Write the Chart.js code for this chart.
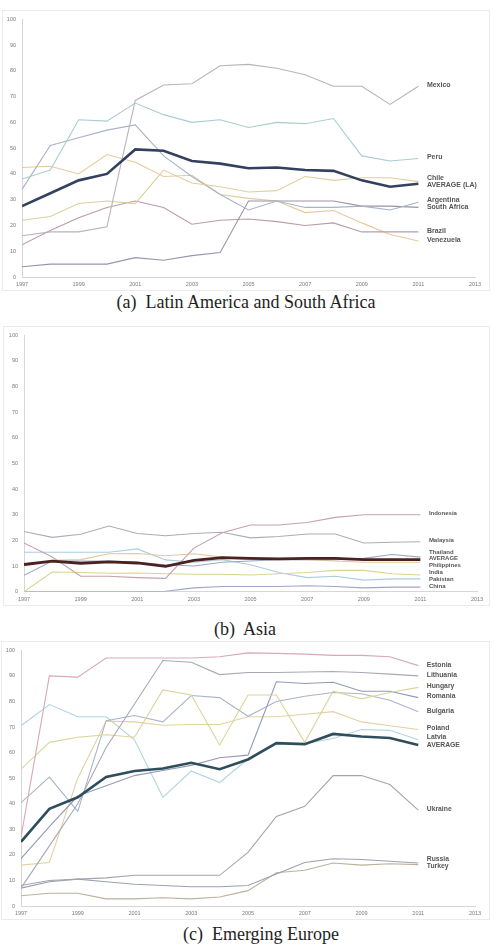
<!DOCTYPE html>
<html>
<head>
<meta charset="utf-8">
<script src="https://cdn.jsdelivr.net/npm/chart.js@4.4.1/dist/chart.umd.min.js"></script>
<style>
  body { margin: 0; background: #fff; width: 494px; height: 947px; position: relative; overflow: hidden; }
  .frame { position: absolute; border: 1px solid #ebebeb; box-sizing: border-box; }
  canvas { position: absolute; }
  .cap { position: absolute; white-space: pre; font-family: 'Liberation Serif', 'Times New Roman', serif; font-size: 18px; color: #1e1e1e; transform: translate(-50%, -50%); }
</style>
</head>
<body>
<script>
// years on the x axis and tick labels
const years = [1997, 1998, 1999, 2000, 2001, 2002, 2003, 2004, 2005, 2006, 2007, 2008, 2009, 2010, 2011];
const xTicks = [1997, 1999, 2001, 2003, 2005, 2007, 2009, 2011, 2013];
const yTicks = [0, 10, 20, 30, 40, 50, 60, 70, 80, 90, 100];

// (a) Latin America and South Africa
const laMexico      = [16, 17.5, 17.5, 19.5, 68.5, 74.5, 75, 82, 82.5, 81, 78.5, 74, 74, 67, 74];
const laPeru        = [38, 41.5, 61, 60.5, 67.5, 63, 60, 61, 58, 60, 59.5, 61.5, 47, 45, 46];
const laChile       = [22, 23.5, 28.5, 29.5, 28.5, 41.5, 36.5, 35, 33, 33.5, 39, 37.5, 38.5, 38.5, 37];
const laAverage     = [27.5, 32.5, 37.5, 40, 49.5, 49, 45, 44, 42.2, 42.5, 41.5, 41.2, 37.5, 35, 36.2];
const laArgentina   = [34, 51, 54, 57, 59, 47, 39, 32, 26, 29.5, 27, 27, 27.5, 26, 29];
const laSouthAfrica = [4, 5, 5, 5, 7.5, 6.5, 8.3, 9.5, 29.5, 29.5, 29.5, 29.5, 27.5, 27.5, 27];
const laBrazil      = [12.5, 18, 23, 27, 29.5, 27, 20.5, 22, 22.5, 21.5, 20, 21, 17.5, 17.5, 17.5];
const laVenezuela   = [42.5, 43, 40, 47.5, 44.5, 39, 39.5, 32, 30.5, 29.5, 25, 25.8, 21, 16.5, 14];

// (b) Asia
const asIndonesia   = [19, 13.5, 6, 6, 5.5, 5.2, 17, 23, 26, 26, 27, 29, 30, 30, 30];
const asMalaysia    = [23.5, 21.2, 22.4, 25.6, 22.7, 21.8, 22.7, 23.2, 21, 21.5, 22.5, 22.5, 19, 19.3, 19.5];
const asThailand    = [6.4, 12, 12, 12, 11.5, 10.5, 10, 11.5, 12, 12.5, 12.5, 12.5, 13, 14.5, 13.5];
const asAverage     = [10.6, 11.9, 11.1, 11.6, 11.2, 9.9, 12.2, 13.3, 13, 12.8, 13, 13, 12.5, 12.5, 12.5];
const asPhilippines = [10, 12.2, 12.5, 14.8, 14.9, 14, 14.8, 13.5, 12.5, 12.5, 12.5, 12, 11.5, 11.5, 11.5];
const asIndia       = [0, 7.7, 7.5, 7.2, 7.3, 7, 6.8, 6.8, 6.5, 7, 7.5, 8.3, 8.3, 7, 6.5];
const asPakistan    = [15.4, 15.4, 15.4, 15.4, 16.7, 12.4, 11.5, 12.5, 10.5, 7.5, 5.5, 6, 4.5, 5, 5];
const asChina       = [0, 0, 0, 0, 0, 0.2, 1.5, 2, 2, 2, 2.3, 2, 1.5, 1.8, 1.8];

// (c) Emerging Europe
const euEstonia   = [27, 90, 89.5, 97, 97, 97, 97, 97.5, 99, 98.8, 98.5, 98, 98, 97.5, 94];
const euLithuania = [7, 23.5, 40, 62, 79, 96, 95.3, 90.5, 91.3, 91.3, 91.5, 91.7, 91.3, 90.7, 90];
const euHungary   = [53.5, 64, 66, 67, 66, 84.5, 82.5, 63, 82.5, 82.5, 64, 84, 81, 83.5, 85.5];
const euRomania   = [18.5, 31, 43, 47, 51, 53, 55, 58, 59, 87.7, 87, 87.5, 84, 84, 81.5];
const euBulgaria  = [40.4, 50.4, 37, 72.5, 74.5, 72, 82.3, 81.5, 74.2, 80, 82, 83.5, 83, 80.5, 76];
const euPoland    = [16, 17, 50, 72.3, 72, 70.7, 71, 71, 74, 74, 75, 76, 72, 70.5, 69];
const euLatvia    = [70.5, 78.8, 74, 74, 65, 42.5, 52.8, 48.3, 57.5, 63.5, 63.5, 65.5, 69, 68.7, 65];
const euAverage   = [25.1, 38, 42.5, 50.5, 52.8, 53.8, 56, 53.5, 57.3, 63.7, 63.3, 67.3, 66.3, 65.7, 63];
const euUkraine   = [8, 10, 10.5, 11, 12, 12, 12, 12, 21, 35, 39, 51, 51, 47.5, 37.5];
const euRussia    = [7, 9.5, 10.5, 9.5, 8.5, 8, 7.5, 7.5, 8, 12.5, 17, 18.5, 18.2, 17.5, 16.8];
const euTurkey    = [4, 5, 5, 2.8, 2.8, 3.2, 2.8, 3.5, 6, 13, 14, 16.8, 16, 16.5, 16.2];

// names at the right end of each line, stacked so they don't overlap
const endLabels = {
  id: 'endLabels',
  afterDatasetsDraw(chart, args, opts) {
    const { ctx, scales: { x, y } } = chart;
    const items = chart.data.datasets.map(ds => ({
      text: ds.label,
      py: y.getPixelForValue(ds.data[ds.data.length - 1].y) - 1
    }));
    items.sort((a, b) => a.py - b.py);
    for (let k = 0; k < 60; k++) {
      for (let i = 1; i < items.length; i++) {
        const d = items[i].py - items[i - 1].py;
        if (d < opts.gap) {
          const s = (opts.gap - d) / 2;
          items[i - 1].py -= s;
          items[i].py += s;
        }
      }
    }
    const px = x.getPixelForValue(2011) + 8.5;
    ctx.save();
    ctx.font = opts.font;
    ctx.fillStyle = '#555555';
    ctx.textAlign = 'left';
    ctx.textBaseline = 'middle';
    items.forEach(it => ctx.fillText(it.text, px, it.py));
    ctx.restore();
  }
};

const panels = [
  {
    box: { x: 2, y: 10, w: 488, h: 281 }, plot: { l: 22, r: 475, t: 16, b: 277 },
    caption: '(a)  Latin America and South Africa', capX: 246, capY: 302,
    gap: 7.3, labelFont: '600 7px "Liberation Sans", Arial, sans-serif',
    series: [
      { name: 'Mexico', data: laMexico, color: '#b9b3bb', width: 1.1 },
      { name: 'Peru', data: laPeru, color: '#a9cdce', width: 1.1 },
      { name: 'Chile', data: laChile, color: '#ddd09e', width: 1.1 },
      { name: 'AVERAGE (LA)', data: laAverage, color: '#33405e', width: 2.6, top: true },
      { name: 'Argentina', data: laArgentina, color: '#a9b2c6', width: 1.1 },
      { name: 'South Africa', data: laSouthAfrica, color: '#9c93aa', width: 1.1 },
      { name: 'Brazil', data: laBrazil, color: '#b99cab', width: 1.1 },
      { name: 'Venezuela', data: laVenezuela, color: '#e5c99d', width: 1.1 }
    ]
  },
  {
    box: { x: 3, y: 326, w: 487, h: 280 }, plot: { l: 24, r: 477, t: 331.7, b: 591.7 },
    caption: '(b)  Asia', capX: 245, capY: 629,
    gap: 6.3, labelFont: '600 6px "Liberation Sans", Arial, sans-serif',
    series: [
      { name: 'Indonesia', data: asIndonesia, color: '#c3a2ad', width: 1.1 },
      { name: 'Malaysia', data: asMalaysia, color: '#adabb6', width: 1.1 },
      { name: 'Thailand', data: asThailand, color: '#9da9c2', width: 1.1 },
      { name: 'AVERAGE', data: asAverage, color: '#4b2222', width: 2.8, top: true },
      { name: 'Philippines', data: asPhilippines, color: '#e5c99b', width: 1.1 },
      { name: 'India', data: asIndia, color: '#d9d58f', width: 1.1 },
      { name: 'Pakistan', data: asPakistan, color: '#a9cfdb', width: 1.1 },
      { name: 'China', data: asChina, color: '#a0a6c9', width: 1.1 }
    ]
  },
  {
    box: { x: 1, y: 641, w: 489, h: 279 }, plot: { l: 21, r: 475, t: 646, b: 906 },
    caption: '(c)  Emerging Europe', capX: 261, capY: 934,
    gap: 7.5, labelFont: '600 6.8px "Liberation Sans", Arial, sans-serif',
    series: [
      { name: 'Estonia', data: euEstonia, color: '#d7a9b5', width: 1.1 },
      { name: 'Lithuania', data: euLithuania, color: '#a9a8b6', width: 1.1 },
      { name: 'Hungary', data: euHungary, color: '#dbd49b', width: 1.1 },
      { name: 'Romania', data: euRomania, color: '#919bb2', width: 1.1 },
      { name: 'Bulgaria', data: euBulgaria, color: '#a9b5c9', width: 1.1 },
      { name: 'Poland', data: euPoland, color: '#e1d1a3', width: 1.1 },
      { name: 'Latvia', data: euLatvia, color: '#b1d5e1', width: 1.1 },
      { name: 'AVERAGE', data: euAverage, color: '#2f4e5d', width: 2.6, top: true },
      { name: 'Ukraine', data: euUkraine, color: '#a6a3ae', width: 1.1 },
      { name: 'Russia', data: euRussia, color: '#9ba1b2', width: 1.1 },
      { name: 'Turkey', data: euTurkey, color: '#b9b29b', width: 1.1 }
    ]
  }
];

const tickFont = { family: '"Liberation Sans", Arial, sans-serif', size: 5.5 };

panels.forEach(p => {
  const frame = document.createElement('div');
  frame.className = 'frame';
  Object.assign(frame.style, { left: p.box.x + 'px', top: p.box.y + 'px', width: p.box.w + 'px', height: p.box.h + 'px' });
  document.body.appendChild(frame);

  const cv = document.createElement('canvas');
  cv.width = p.box.w;
  cv.height = p.box.h;
  Object.assign(cv.style, { left: p.box.x + 'px', top: p.box.y + 'px', width: p.box.w + 'px', height: p.box.h + 'px' });
  document.body.appendChild(cv);

  const cap = document.createElement('div');
  cap.className = 'cap';
  cap.textContent = p.caption;
  Object.assign(cap.style, { left: p.capX + 'px', top: p.capY + 'px' });
  document.body.appendChild(cap);

  new Chart(cv.getContext('2d'), {
    type: 'line',
    data: {
      datasets: p.series.map(s => ({
        label: s.name,
        data: years.map((yr, i) => ({ x: yr, y: s.data[i] })),
        borderColor: s.color,
        borderWidth: s.width,
        pointRadius: 0,
        tension: 0,
        fill: false,
        order: s.top ? -1 : 0
      }))
    },
    options: {
      responsive: false,
      devicePixelRatio: 1,
      animation: false,
      layout: { padding: { top: p.plot.t - p.box.y, right: p.box.x + p.box.w - p.plot.r, left: 0, bottom: 0 } },
      plugins: {
        legend: { display: false },
        tooltip: { enabled: false },
        endLabels: { gap: p.gap, font: p.labelFont }
      },
      scales: {
        x: {
          type: 'linear', min: 1997, max: 2013,
          grid: { display: false, drawTicks: false },
          border: { display: true, color: '#d6d6d6', width: 1 },
          afterBuildTicks: sc => { sc.ticks = xTicks.map(v => ({ value: v })); },
          afterFit: sc => { sc.height = p.box.y + p.box.h - p.plot.b; },
          ticks: { font: tickFont, color: '#7a7a7a', padding: 4, maxRotation: 0, autoSkip: false, callback: v => String(v) }
        },
        y: {
          min: 0, max: 100,
          grid: { display: false, drawTicks: false },
          border: { display: true, color: '#d6d6d6', width: 1 },
          afterBuildTicks: sc => { sc.ticks = yTicks.map(v => ({ value: v })); },
          afterFit: sc => { sc.width = p.plot.l - p.box.x; },
          ticks: { font: tickFont, color: '#7a7a7a', padding: 6, callback: v => String(v) }
        }
      }
    },
    plugins: [endLabels]
  });
});
</script>
</body>
</html>
